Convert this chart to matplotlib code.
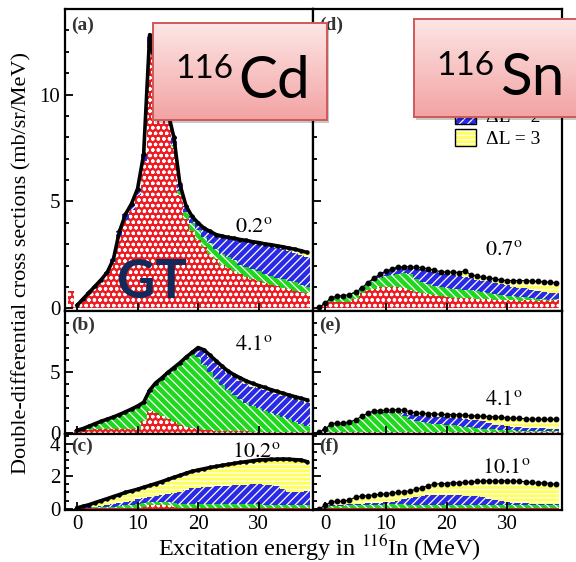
import numpy as np
import matplotlib
matplotlib.use('Agg')
import matplotlib.pyplot as plt
from matplotlib.patches import Rectangle, Patch
from matplotlib.ticker import MultipleLocator
from matplotlib.colors import LinearSegmentedColormap
from matplotlib.legend_handler import HandlerTuple

plt.rcParams['font.family'] = ['Liberation Serif', 'DejaVu Serif']
plt.rcParams['mathtext.fontset'] = 'stix'
plt.rcParams['hatch.linewidth'] = 0.9

# ---------------- data (bin centres in MeV, 1 MeV bins) ----------------
energy = np.arange(-1, 39)
edges = np.arange(-1.5, 39.0, 1.0)
labels_dl = ['ΔL = 0', 'ΔL = 1', 'ΔL = 2', 'ΔL = 3']
angles = ['0.2', '4.1', '10.2', '0.7', '4.1', '10.1']
panel_tags = ['(a)', '(b)', '(c)', '(d)', '(e)', '(f)']
xticks = [0, 10, 20, 30]
yticks_rows = [[0, 5, 10], [0, 5], [0, 2, 4]]

# 116Cd, 0.2 deg
total_a = [0.1, 0.15, 0.45, 0.75, 1.05, 1.35, 1.7, 2.3, 3.6, 4.4, 4.9, 5.6, 7.2, 12.8, 11.2, 10.2,
           9.2, 8.0, 5.8, 4.8, 4.3, 4.0, 3.75, 3.6, 3.45, 3.38, 3.32, 3.28, 3.22, 3.18, 3.12, 3.08,
           3.02, 2.98, 2.93, 2.88, 2.82, 2.77, 2.7, 2.62]
dl0_a = [0.8, 0.15, 0.42, 0.7, 0.98, 1.26, 1.6, 2.15, 3.4, 4.15, 4.6, 5.3, 6.9, 12.4, 10.9, 9.9,
         8.9, 7.5, 5.3, 4.2, 3.6, 3.2, 2.85, 2.55, 2.3, 2.05, 1.9, 1.75, 1.6, 1.48, 1.38, 1.28,
         1.18, 1.1, 1.03, 0.97, 0.9, 0.83, 0.77, 0.7]
dl1_a = [0.0] * 15 + [0.05, 0.1, 0.15, 0.2, 0.3, 0.4, 0.45] + [0.5] * 6 + [0.45] * 5 + [0.4] * 5 + [0.32, 0.32]
dl2_a = [0.0, 0.0, 0.03, 0.05, 0.07, 0.09, 0.1, 0.15, 0.2, 0.25, 0.3, 0.3, 0.3, 0.4, 0.3, 0.25,
         0.2, 0.35, 0.3, 0.3, 0.3, 0.35, 0.4, 0.55, 0.65, 0.83, 0.92, 1.03, 1.17, 1.25, 1.29, 1.3,
         1.34, 1.4, 1.4, 1.39, 1.37, 1.36, 1.41, 1.38]
dl3_a = [0.0] * 31 + [0.05, 0.05, 0.08, 0.1, 0.12, 0.15, 0.18, 0.2, 0.22]

# 116Cd, 4.1 deg
total_b = [0.1, 0.2, 0.35, 0.55, 0.75, 0.95, 1.12, 1.3, 1.5, 1.72, 1.95, 2.2, 2.5, 3.5, 4.1, 4.5,
           4.95, 5.35, 5.75, 6.2, 6.6, 7.0, 6.8, 6.35, 5.9, 5.45, 5.05, 4.75, 4.5, 4.25, 4.05, 3.88,
           3.72, 3.55, 3.4, 3.25, 3.1, 2.97, 2.83, 2.7]
dl0_b = [0.1, 0.15, 0.2, 0.25, 0.3] + [0.3] * 6 + [0.35, 1.0, 1.75, 1.6, 1.35, 1.1, 0.85, 0.65, 0.5,
         0.4, 0.3, 0.25, 0.2, 0.15, 0.14, 0.13, 0.12, 0.12, 0.11] + [0.1] * 10
dl1_b = [0.0, 0.02, 0.12, 0.27, 0.42, 0.62, 0.79, 0.97, 1.17, 1.39, 1.62, 1.82, 1.35, 1.6, 2.35, 3.0,
         3.7, 4.35, 4.95, 5.55, 6.05, 5.9, 5.35, 4.8, 4.3, 3.81, 3.37, 2.98, 2.63, 2.34, 2.1, 1.9,
         1.7, 1.52, 1.35, 1.18, 1.0, 0.82, 0.65, 0.48]
dl2_b = [0.0] + [0.03] * 11 + [0.15] * 9 + [0.75, 1.1, 1.2, 1.3, 1.35, 1.4, 1.45, 1.5, 1.55, 1.6,
         1.65, 1.7, 1.73, 1.75, 1.77, 1.8, 1.83, 1.85, 1.87]
dl3_b = [0.0] * 21 + [0.05, 0.1, 0.15, 0.15, 0.15, 0.15, 0.2, 0.25, 0.25, 0.25, 0.23, 0.22,
         0.2, 0.2, 0.2, 0.2, 0.22, 0.23, 0.25]

# 116Cd, 10.2 deg
total_c = [0.0, 0.05, 0.15, 0.25, 0.38, 0.5, 0.62, 0.75, 0.87, 1.0, 1.1, 1.2, 1.32, 1.43, 1.55, 1.67,
           1.8, 1.93, 2.05, 2.18, 2.3, 2.38, 2.46, 2.54, 2.6, 2.67, 2.73, 2.79, 2.85, 2.9, 2.95, 3.0,
           3.02, 3.04, 3.05, 3.06, 3.05, 3.02, 3.0, 2.9]
dl0_c = [0.0] + [0.02] * 11 + [0.1, 0.2, 0.25, 0.25, 0.2, 0.12] + [0.03] * 22
dl1_c = [0.0, 0.02, 0.04, 0.05, 0.06, 0.07, 0.08, 0.1, 0.13, 0.18, 0.23, 0.28, 0.25, 0.2, 0.17, 0.17,
         0.2, 0.26] + [0.29] * 14 + [0.17] * 8
dl2_c = [0.0, 0.01, 0.02, 0.03, 0.05, 0.07, 0.1, 0.15, 0.2, 0.22, 0.25, 0.28, 0.3, 0.32, 0.38, 0.45,
         0.52, 0.57, 0.73, 0.83, 0.93, 0.98, 1.0, 1.03, 1.06, 1.08, 1.1, 1.12, 1.14, 1.16, 1.18, 1.18,
         1.28, 1.25, 1.2, 1.0, 0.8, 0.8, 0.85, 0.9]
dl3_c = [0.0, 0.0, 0.07, 0.15, 0.25, 0.34, 0.42, 0.48, 0.52, 0.58, 0.6, 0.62, 0.67, 0.71, 0.75, 0.8,
         0.88, 0.98, 1.0, 1.03, 1.05, 1.08, 1.14, 1.19, 1.22, 1.27, 1.31, 1.35, 1.39, 1.42, 1.45, 1.5,
         1.54, 1.59, 1.65, 1.86, 2.05, 2.02, 1.95, 1.8]

# 116Sn, 0.7 deg
total_d = [0.05, 0.25, 0.5, 0.58, 0.6, 0.65, 0.75, 0.95, 1.2, 1.42, 1.6, 1.75, 1.85, 1.95, 1.95, 1.95,
           1.93, 1.9, 1.85, 1.78, 1.72, 1.7, 1.7, 1.68, 1.76, 1.57, 1.52, 1.46, 1.42, 1.38, 1.33, 1.3,
           1.3, 1.3, 1.3, 1.28, 1.26, 1.24, 1.22, 1.2]
dl0_d = [0.05, 0.2, 0.28, 0.3, 0.3, 0.32, 0.45, 0.7, 0.85, 0.92, 1.0, 1.02, 1.0, 1.0, 0.95, 0.85,
         0.78, 0.72, 0.68, 0.62, 0.58, 0.55, 0.5, 0.5, 0.48, 0.5, 0.45, 0.42, 0.45, 0.4, 0.38, 0.4,
         0.38, 0.36, 0.4, 0.38, 0.35, 0.38, 0.35, 0.4]
dl1_d = [0.0, 0.03, 0.12, 0.2, 0.22, 0.25, 0.3, 0.2, 0.25, 0.35, 0.4, 0.48, 0.55, 0.62, 0.72, 0.75,
         0.6, 0.5, 0.45, 0.42, 0.42, 0.42, 0.42, 0.4, 0.4, 0.35, 0.38, 0.35, 0.28, 0.28, 0.25, 0.2,
         0.18, 0.18, 0.12, 0.1, 0.1, 0.05, 0.05, 0.03]
dl2_d = [0.02] * 7 + [0.05, 0.1, 0.12, 0.15, 0.2, 0.25, 0.3, 0.26, 0.3, 0.5, 0.62, 0.65, 0.68, 0.68,
         0.65, 0.65, 0.62, 0.6, 0.58, 0.5, 0.5, 0.55, 0.52, 0.52, 0.5, 0.45, 0.4, 0.45, 0.4, 0.38,
         0.35, 0.32, 0.3]
dl3_d = [0.0, 0.0, 0.08, 0.06, 0.06, 0.06, 0.0, 0.0, 0.0, 0.03, 0.05, 0.05, 0.05, 0.03, 0.02, 0.05,
         0.05, 0.06, 0.07, 0.06, 0.04, 0.08, 0.13, 0.16, 0.2, 0.14, 0.19, 0.19, 0.14, 0.18, 0.18, 0.2,
         0.29, 0.36, 0.33, 0.4, 0.43, 0.46, 0.5, 0.47]

# 116Sn, 4.1 deg
total_e = [0.05, 0.3, 0.75, 0.8, 0.8, 0.9, 1.05, 1.35, 1.6, 1.78, 1.82, 1.85, 1.88, 1.9, 1.85, 1.72,
           1.62, 1.6, 1.57, 1.55, 1.52, 1.5, 1.5, 1.47, 1.45, 1.4, 1.38, 1.35, 1.33, 1.3, 1.27, 1.22,
           1.2, 1.18, 1.15, 1.12, 1.12, 1.1, 1.1, 1.12]
dl0_e = [0.03] + [0.05] * 39
dl1_e = [0.02, 0.2, 0.6, 0.62, 0.62, 0.7, 0.85, 1.15, 1.4, 1.55, 1.6, 1.6, 1.58, 1.55, 1.3, 1.1,
         0.95, 0.85, 0.75, 0.7, 0.65, 0.6, 0.55, 0.5, 0.45, 0.4, 0.35, 0.3, 0.25, 0.22, 0.2, 0.18,
         0.15, 0.12, 0.1, 0.1, 0.1, 0.1, 0.1, 0.1]
dl2_e = [0.0] + [0.03] * 11 + [0.05, 0.1, 0.25, 0.35, 0.45, 0.5, 0.55, 0.55, 0.6, 0.65, 0.65, 0.65,
         0.65, 0.62, 0.62, 0.6, 0.5, 0.4, 0.35, 0.3, 0.3, 0.3, 0.28, 0.25, 0.25, 0.22, 0.2, 0.2]
dl3_e = [0.0, 0.02, 0.07, 0.1, 0.1, 0.12, 0.12, 0.12, 0.12, 0.15, 0.14, 0.17, 0.2, 0.2, 0.25, 0.22,
         0.17, 0.2, 0.22, 0.25, 0.22, 0.2, 0.25, 0.27, 0.3, 0.33, 0.36, 0.4, 0.53, 0.63, 0.67, 0.69,
         0.7, 0.71, 0.72, 0.72, 0.72, 0.73, 0.75, 0.77]

# 116Sn, 10.1 deg
total_f = [0.0, 0.2, 0.42, 0.45, 0.45, 0.55, 0.7, 0.78, 0.8, 0.85, 0.88, 0.92, 0.97, 1.0, 1.05, 1.1,
           1.2, 1.3, 1.42, 1.5, 1.55, 1.55, 1.6, 1.6, 1.62, 1.65, 1.68, 1.7, 1.72, 1.7, 1.72, 1.72,
           1.68, 1.7, 1.65, 1.62, 1.58, 1.6, 1.55, 1.5]
dl0_f = [0.0] + [0.03] * 39
dl1_f = [0.0, 0.1, 0.15, 0.15, 0.15, 0.18, 0.2, 0.2, 0.2, 0.22, 0.22, 0.25, 0.25, 0.25, 0.25, 0.22] + [0.18] * 24
dl2_f = [0.0, 0.05, 0.05, 0.05, 0.05, 0.05, 0.07, 0.07, 0.1, 0.12, 0.13, 0.12, 0.15, 0.22, 0.3, 0.4,
         0.5, 0.6, 0.62, 0.65, 0.65, 0.65, 0.65, 0.62, 0.6, 0.58, 0.55, 0.5, 0.38, 0.32, 0.25, 0.2,
         0.15, 0.12, 0.12, 0.1, 0.1, 0.1, 0.1, 0.1]
dl3_f = [0.0, 0.02, 0.19, 0.22, 0.22, 0.29, 0.4, 0.48, 0.47, 0.48, 0.5, 0.52, 0.54, 0.5, 0.47, 0.45,
         0.49, 0.49, 0.59, 0.64, 0.69, 0.69, 0.74, 0.77, 0.81, 0.86, 0.92, 0.99, 1.13, 1.17, 1.26, 1.31,
         1.32, 1.37, 1.32, 1.31, 1.27, 1.29, 1.24, 1.19]

panels = [
    (total_a, [dl0_a, dl1_a, dl2_a, dl3_a]),
    (total_b, [dl0_b, dl1_b, dl2_b, dl3_b]),
    (total_c, [dl0_c, dl1_c, dl2_c, dl3_c]),
    (total_d, [dl0_d, dl1_d, dl2_d, dl3_d]),
    (total_e, [dl0_e, dl1_e, dl2_e, dl3_e]),
    (total_f, [dl0_f, dl1_f, dl2_f, dl3_f]),
]

# ---------------- styling / layout ----------------
W, H = 576, 562
fig = plt.figure(figsize=(W / 100, H / 100), dpi=100)


def fbox(x0, y0, x1, y1):
    return [x0 / W, 1 - y1 / H, (x1 - x0) / W, (y1 - y0) / H]


face = ['#ee1c22', '#1ed81e', '#2a2ae6', '#ffff5a']
hatches = ['ooo', '\\\\\\\\', '////', '----']
cols = [(65, 313), (313, 562)]
rows = [(9, 311), (311, 434), (434, 510)]
ylims = [(-0.12, 14.0), (-0.1, 10.0), (-0.08, 4.6)]
ymin = [1, 1, 0.5]
xlim = (-2.0, 39.0)

axes = []
for ci, (cx0, cx1) in enumerate(cols):
    for ri, (ry0, ry1) in enumerate(rows):
        k = ci * 3 + ri
        ax = fig.add_axes(fbox(cx0, ry0, cx1, ry1))
        axes.append(ax)
        total, comps = panels[k]
        base = np.zeros(len(energy))
        for vals, fc, ht in zip(comps, face, hatches):
            top = base + np.asarray(vals)
            ax.stairs(top, edges, baseline=base, fill=True, facecolor=fc,
                      edgecolor='white', hatch=ht, linewidth=0)
            base = top
        if ci == 0:
            ax.plot(energy[1:], np.asarray(total)[1:], color='black', lw=2.6,
                    marker='o', ms=2.2, zorder=5)
        else:
            ax.plot(energy, total, color='black', lw=0.8, marker='o', ms=3.2, zorder=5)
        ax.set_xlim(*xlim)
        ax.set_ylim(*ylims[ri])
        ax.set_yticks(yticks_rows[ri])
        ax.yaxis.set_minor_locator(MultipleLocator(ymin[ri]))
        ax.set_xticks(xticks)
        ax.tick_params(which='both', direction='in', labelsize=15, width=1.3)
        ax.tick_params(which='major', length=6)
        ax.tick_params(which='minor', length=3)
        if ci == 1:
            ax.tick_params(labelleft=False)
        if ri != 2:
            ax.tick_params(labelbottom=False)
        for s in ax.spines.values():
            s.set_linewidth(1.6)
        ax.text(0.025, 0.975 if ri == 0 else 0.95, panel_tags[k], transform=ax.transAxes,
                ha='left', va='top', fontsize=14, fontweight='bold', color='#333333')

# angle labels (figure pixel positions: left, baseline)
ang_pos = [(235, 232), (235, 350), (232, 457), (485, 255), (485, 405), (482, 473)]
for (px, py), a in zip(ang_pos, angles):
    fig.text(px / W, 1 - py / H, r'$\mathrm{' + a + r'}^{\mathrm{o}}$', fontsize=16,
             ha='left', va='baseline')

# legend in panel (d)
hd = [(Patch(facecolor=fc, edgecolor='white', hatch=ht, linewidth=0),
       Patch(facecolor='none', edgecolor='black', linewidth=1.0))
      for fc, ht in zip(face, hatches)]
axes[3].legend(hd, labels_dl, handler_map={tuple: HandlerTuple(ndivide=1)},
               loc='lower right', bbox_to_anchor=(0.96, 0.50), frameon=False,
               fontsize=14, handlelength=1.1, handleheight=1.0, handletextpad=0.5,
               labelspacing=0.15, borderpad=0.1)

fig.text(22 / W, 1 - 263 / H, 'Double-differential cross sections (mb/sr/MeV)',
         rotation=90, ha='center', va='center', fontsize=16)
fig.text(319 / W, 1 - 548 / H, r'Excitation energy in $^{116}$In (MeV)',
         ha='center', va='center', fontsize=17.5)

# ---------------- pink call-out boxes ----------------
grad = LinearSegmentedColormap.from_list('pink', ['#fde6e6', '#f3a3a3'])


def callout(x0, y0, x1, y1):
    fig.patches.append(Rectangle((x0 / W + 0.004, 1 - y1 / H - 0.006), (x1 - x0) / W, (y1 - y0) / H,
                                 transform=fig.transFigure, facecolor=(0, 0, 0, 0.22),
                                 edgecolor='none', zorder=9))
    bx = fig.add_axes(fbox(x0, y0, x1, y1))
    bx.imshow(np.linspace(0, 1, 100)[:, None], cmap=grad, aspect='auto', extent=(0, 1, 0, 1))
    bx.set_xlim(0, 1)
    bx.set_ylim(0, 1)
    bx.set_xticks([])
    bx.set_yticks([])
    for s in bx.spines.values():
        s.set_color('#cf5a58')
        s.set_linewidth(1.4)
    bx.set_zorder(10)


callout(153, 23, 327, 120)
callout(414, 19, 600, 117)
fig.text(175 / W, 1 - 78 / H, '116', fontsize=24, family='Lato', ha='left', va='baseline', zorder=12)
fig.text(238 / W, 1 - 98 / H, 'Cd', fontsize=42, family='Lato', ha='left', va='baseline', zorder=12)
fig.text(436 / W, 1 - 75 / H, '116', fontsize=24, family='Lato', ha='left', va='baseline', zorder=12)
fig.text(500 / W, 1 - 95 / H, 'Sn', fontsize=42, family='Lato', ha='left', va='baseline', zorder=12)

fig.text(117 / W, 1 - 298 / H, 'GT', fontsize=38, family='Lato', fontweight='bold',
         color='#13295c', ha='left', va='baseline', zorder=12)

fig.savefig('out.png', dpi=100)
